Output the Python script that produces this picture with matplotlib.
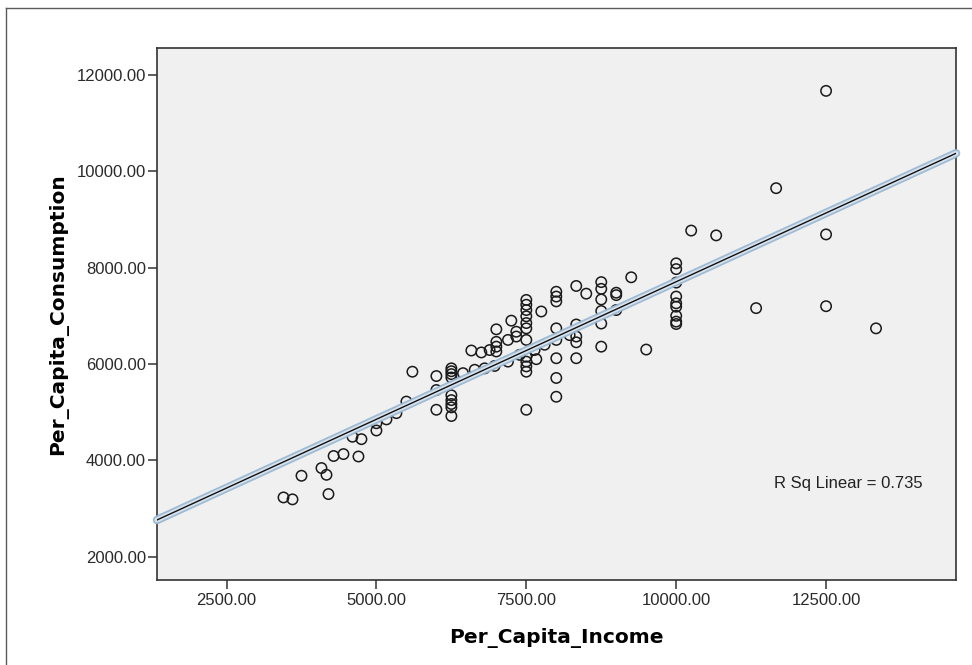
import matplotlib.pyplot as plt
from matplotlib.lines import Line2D

# values
income = [3450, 3600, 3750, 4083, 4167, 4200, 4286, 4450, 4600, 4700, 4750,
          5000, 5000, 5167, 5333, 5500, 5600,
          6000, 6000, 6000,
          6250, 6250, 6250, 6250, 6250, 6250, 6250, 6250, 6250,
          6444, 6583, 6639, 6750, 6805, 6888, 6972,
          7000, 7000, 7000, 7000,
          7194, 7194, 7250, 7333, 7333, 7388,
          7500, 7500, 7500, 7500, 7500, 7500, 7500, 7500, 7500, 7500, 7500, 7500,
          7638, 7667, 7750, 7805,
          8000, 8000, 8000, 8000, 8000, 8000, 8000, 8000,
          8222,
          8333, 8333, 8333, 8333, 8333,
          8500,
          8750, 8750, 8750, 8750, 8750, 8750,
          9000, 9000, 9000,
          9250, 9500,
          10000, 10000, 10000, 10000, 10000, 10000, 10000, 10000, 10000,
          10250, 10667, 11333, 11667,
          12500, 12500, 12500,
          13333]
consumption = [3230, 3190, 3680, 3840, 3700, 3300, 4090, 4130, 4490, 4080, 4440,
               4620, 4770, 4850, 4980, 5220, 5840,
               5750, 5460, 5050,
               5910, 5850, 5790, 5720, 5350, 5250, 5170, 5100, 4920,
               5810, 6280, 5880, 6240, 5910, 6290, 5960,
               6720, 6460, 6360, 6260,
               6500, 6050, 6900, 6670, 6570, 6190,
               7330, 7230, 7120, 6990, 6850, 6740, 6500, 6150, 6050, 5950, 5840, 5050,
               6290, 6100, 7090, 6400,
               7500, 7400, 7300, 6740, 6500, 6120, 5710, 5320,
               6600,
               7620, 6820, 6570, 6450, 6120,
               7460,
               7700, 7560, 7340, 7100, 6840, 6360,
               7480, 7430, 7120,
               7800, 6300,
               8090, 7970, 7690, 7400, 7260, 7190, 7000, 6880, 6830,
               8770, 8670, 7160, 9650,
               11670, 8690, 7200,
               6740]

fit_intercept = 1997
fit_slope = 0.5711
r_sq = 0.735

x_ticks = [2500, 5000, 7500, 10000, 12500]
y_ticks = [2000, 4000, 6000, 8000, 10000, 12000]
x_range = (1340, 14667)
y_range = (1516, 12560)

fig = plt.figure(figsize=(9.72, 6.65), dpi=100)
fig.patch.set_facecolor('white')
ax = fig.add_axes([157/972, 85/665, 799/972, 532/665])
ax.set_facecolor('#f0f0f0')

ax.scatter(income, consumption, s=56, facecolors='none', edgecolors='#1a1a1a',
           linewidths=1.1, zorder=2)

# fit line with the light blue "selected" halo
fx = list(x_range)
fy = [fit_intercept + fit_slope * v for v in fx]
ax.plot(fx, fy, color='#9ab9d3', lw=6.2, solid_capstyle='round', clip_on=False, zorder=3, alpha=0.95)
ax.plot(fx, fy, color='#e6edf4', lw=3.6, solid_capstyle='round', clip_on=False, zorder=3, alpha=0.8)
ax.plot(fx, fy, color='#111111', lw=1.0, zorder=4)

ax.set_xlim(x_range)
ax.set_ylim(y_range)
ax.set_xticks(x_ticks)
ax.set_yticks(y_ticks)
ax.set_xticklabels([f"{v:.2f}" for v in x_ticks])
ax.set_yticklabels([f"{v:.2f}" for v in y_ticks])
ax.tick_params(axis='both', direction='out', length=6.5, width=1.1, color='#333333',
               labelsize=12, labelcolor='#2a2a2a')
ax.tick_params(axis='x', pad=3)
ax.tick_params(axis='y', pad=1.5)
for lab in ax.get_xticklabels() + ax.get_yticklabels():
    lab.set_family('Liberation Sans')

for sp in ax.spines.values():
    sp.set_color('#333333')
    sp.set_linewidth(1.2)

ax.set_xlabel("Per_Capita_Income", fontsize=14.5, fontweight='bold', family='DejaVu Sans')
ax.set_ylabel("Per_Capita_Consumption", fontsize=14.5, fontweight='bold', family='DejaVu Sans')
ax.xaxis.set_label_coords(0.5, -58/532)
ax.xaxis.label.set_va('center')
ax.yaxis.set_label_coords(-99/799, 0.5)
ax.yaxis.label.set_va('center')

ax.text(0.772, 0.182, f"R Sq Linear = {r_sq}", transform=ax.transAxes,
        fontsize=12, family='Liberation Sans', color='#222222', va='center', ha='left')

# outer chart frame (left and top edges visible)
fig.add_artist(Line2D([6/972, 6/972], [0, 1 - 8/665], color='#5a5a5a', lw=1.0))
fig.add_artist(Line2D([6/972, 1], [1 - 8/665, 1 - 8/665], color='#5a5a5a', lw=1.0))

fig.savefig('out.png', dpi=100)
